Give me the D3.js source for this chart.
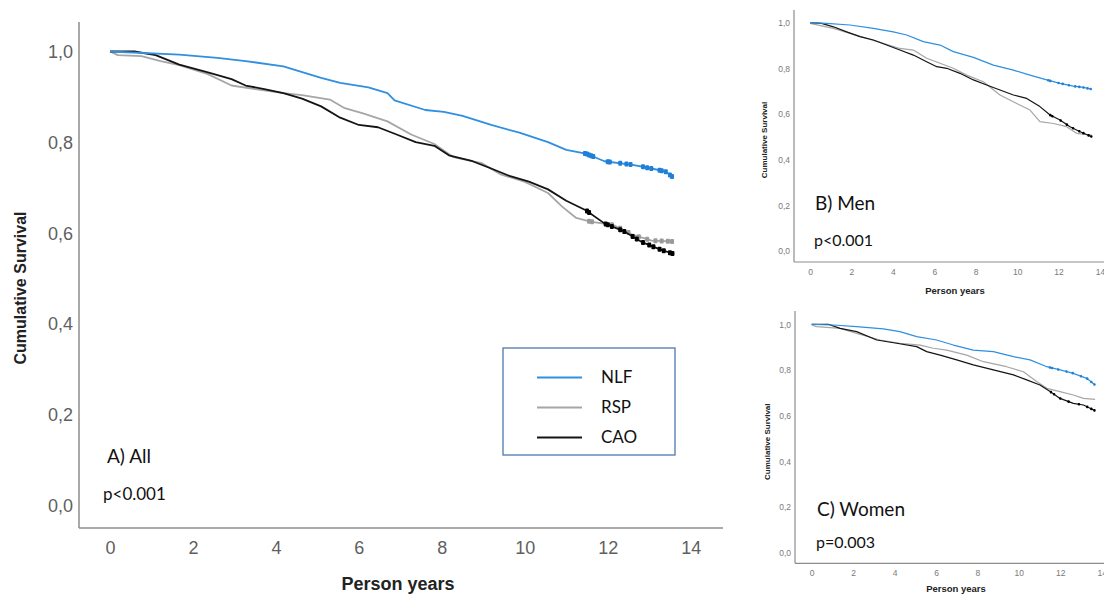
<!DOCTYPE html>
<html>
<head>
<meta charset="utf-8">
<script src="https://cdn.jsdelivr.net/npm/d3@7"></script>
<style>
  body { margin: 0; background: #fff; }
  svg { display: block; }
</style>
</head>
<body>
<svg id="chart" width="1104" height="594"></svg>
<script>
// tick labels
const xTicks = [0, 2, 4, 6, 8, 10, 12, 14];
const yTicks = [0, 0.2, 0.4, 0.6, 0.8, 1.0];
const groups = ["NLF", "RSP", "CAO"];

// A) All  -  [years, cumulative survival]
const allNLF = [[0,1],[1.67,0.993],[2.59,0.986],[3.27,0.979],[4.18,0.967],[5.09,0.942],[5.55,0.931],[6.23,0.921],[6.69,0.908],[6.86,0.892],[7.6,0.871],[8.05,0.867],[8.5,0.858],[9.19,0.838],[9.87,0.821],[10.56,0.80],[11.0,0.783],[11.47,0.775],[11.92,0.758],[12.6,0.75],[13.06,0.742],[13.4,0.735],[13.58,0.722]];
const allRSP = [[0,1],[0.19,0.992],[0.76,0.99],[1.22,0.979],[1.67,0.97],[2.36,0.95],[2.93,0.925],[3.5,0.917],[4.18,0.908],[4.63,0.904],[5.3,0.894],[5.66,0.875],[6.12,0.863],[6.69,0.846],[7.26,0.817],[7.82,0.796],[8.28,0.767],[8.96,0.754],[9.42,0.729],[9.99,0.713],[10.56,0.688],[10.9,0.658],[11.24,0.633],[11.58,0.625],[12.15,0.617],[12.6,0.596],[13.06,0.583],[13.58,0.581]];
const allCAO = [[0,1],[0.59,1],[1.1,0.992],[1.67,0.971],[2.36,0.954],[2.93,0.939],[3.27,0.925],[3.72,0.917],[4.18,0.908],[4.63,0.896],[5.09,0.879],[5.55,0.854],[6.0,0.838],[6.46,0.833],[6.91,0.817],[7.37,0.80],[7.82,0.792],[8.17,0.771],[8.74,0.758],[9.19,0.742],[9.65,0.725],[10.1,0.713],[10.56,0.696],[11.0,0.671],[11.47,0.65],[11.92,0.621],[12.38,0.604],[12.84,0.579],[13.29,0.5625],[13.58,0.554]];

// B) Men
const menNLF = [[0,1],[0.8,0.997],[1.93,0.99],[3.06,0.975],[4.02,0.96],[4.67,0.946],[5.47,0.917],[6.28,0.902],[6.92,0.873],[7.89,0.848],[8.85,0.814],[9.82,0.792],[10.62,0.77],[11.43,0.749],[12.07,0.734],[12.71,0.722],[13.2,0.716],[13.6,0.708]];
const menRSP = [[0,0.997],[1.13,0.975],[1.93,0.953],[2.74,0.931],[3.54,0.909],[4.34,0.887],[4.99,0.88],[5.63,0.844],[6.28,0.822],[6.92,0.8],[7.56,0.77],[8.37,0.741],[9.17,0.683],[9.98,0.646],[10.62,0.617],[11.1,0.566],[11.75,0.558],[12.39,0.544],[12.87,0.515],[13.6,0.507]];
const menCAO = [[0,1],[0.56,0.997],[1.13,0.982],[1.77,0.96],[2.41,0.939],[3.06,0.924],[3.7,0.902],[4.34,0.88],[4.99,0.858],[5.63,0.829],[6.12,0.807],[6.6,0.8],[7.24,0.778],[7.89,0.749],[8.53,0.727],[9.17,0.705],[9.82,0.683],[10.46,0.668],[11.1,0.632],[11.59,0.595],[12.07,0.573],[12.55,0.544],[13.04,0.522],[13.6,0.5]];

// C) Women
const womenNLF = [[0,1],[1.05,0.997],[2.17,0.99],[3.46,0.98],[4.26,0.968],[5.07,0.946],[6.03,0.931],[6.84,0.909],[7.8,0.887],[8.77,0.88],[9.74,0.858],[10.54,0.844],[11.35,0.814],[11.99,0.8],[12.63,0.785],[13.28,0.763],[13.68,0.734]];
const womenRSP = [[0,0.997],[0.24,0.99],[1.37,0.982],[2.17,0.96],[3.3,0.931],[4.26,0.917],[5.23,0.909],[5.87,0.895],[6.52,0.887],[7.48,0.865],[8.29,0.836],[9.41,0.814],[10.22,0.792],[10.86,0.749],[11.35,0.719],[11.99,0.705],[12.63,0.69],[13.12,0.675],[13.68,0.671]];
const womenCAO = [[0,1],[0.8,1],[1.37,0.982],[2.17,0.968],[3.14,0.931],[4.1,0.917],[5.07,0.902],[5.55,0.88],[6.2,0.865],[7.0,0.844],[7.8,0.822],[8.77,0.8],[9.74,0.778],[10.38,0.756],[11.02,0.734],[11.51,0.705],[11.99,0.675],[12.63,0.653],[13.12,0.646],[13.68,0.621]];

// censored observations (blobs near the end of follow-up)
const allNLFcens = [11.45,11.5,11.55,11.6,11.65,12.0,12.05,12.3,12.45,12.55,12.85,12.95,13.05,13.25,13.3,13.4,13.5,13.55];
const allRSPcens = [11.55,11.62,12.1,12.3,12.5,12.75,12.95,13.15,13.3,13.45,13.55];
const allCAOcens = [11.5,11.55,11.95,12.0,12.1,12.3,12.4,12.6,12.7,12.85,13.0,13.1,13.25,13.35,13.5,13.56];
const menNLFcens = [11.5,11.6,12.0,12.2,12.5,12.8,13.0,13.2,13.4,13.55];
const menCAOcens = [11.6,11.7,12.1,12.4,12.7,13.0,13.2,13.45,13.58];
const womenNLFcens = [11.5,11.6,11.9,12.3,12.6,13.0,13.3,13.5,13.65];
const womenCAOcens = [11.55,11.7,12.0,12.4,12.9,13.3,13.5,13.65];

const colors = { NLF: "#2f8fe0", RSP: "#a6a6a6", CAO: "#141414" };
const censColors = { NLF: "#1f80d8", RSP: "#9a9a9a", CAO: "#000" };

const svg = d3.select("#chart");

function valueAt(points, t) {
  let v = points[0][1];
  for (let i = 1; i < points.length; i++) {
    const [t0, s0] = points[i - 1];
    const [t1, s1] = points[i];
    if (t >= t0 && t <= t1) return s0 + (s1 - s0) * (t - t0) / (t1 - t0);
    v = s1;
  }
  return v;
}

function drawPanel(p, series) {
  const x = d3.scaleLinear().domain([0, 14]).range([p.x0, p.x1]);
  const y = d3.scaleLinear().domain([0, 1]).range([p.y0, p.y1]);
  const g = svg.append("g");

  // axis lines
  g.append("line")
    .attr("x1", p.axisX).attr("x2", p.axisX)
    .attr("y1", p.axisTop).attr("y2", p.axisY)
    .attr("stroke", "#8c8c8c").attr("stroke-width", p.axisW);
  g.append("line")
    .attr("x1", p.axisX).attr("x2", p.axisRight)
    .attr("y1", p.axisY).attr("y2", p.axisY)
    .attr("stroke", "#8c8c8c").attr("stroke-width", p.axisW);

  // tick labels
  const yAxis = d3.axisLeft(y).tickValues(yTicks).tickSize(0).tickPadding(0)
    .tickFormat(d => d3.format(".1f")(d).replace(".", ","));
  g.append("g")
    .attr("transform", `translate(${p.yLabelRight},0)`)
    .call(yAxis)
    .call(a => a.select(".domain").remove())
    .selectAll("text")
    .attr("font-family", "Liberation Sans, Arial, sans-serif")
    .attr("font-size", p.tickSize)
    .attr("fill", p.tickColor)
    .attr("dy", "0.35em");

  const xAxis = d3.axisBottom(x).tickValues(xTicks).tickSize(0).tickPadding(0);
  g.append("g")
    .attr("transform", `translate(0,${p.xLabelY})`)
    .call(xAxis)
    .call(a => a.select(".domain").remove())
    .selectAll("text")
    .attr("font-family", "Liberation Sans, Arial, sans-serif")
    .attr("font-size", p.tickSize)
    .attr("fill", p.tickColor)
    .attr("dy", "0.35em");

  // axis titles
  g.append("text")
    .attr("x", p.xTitle[0]).attr("y", p.xTitle[1])
    .attr("text-anchor", "middle").attr("dy", "0.35em")
    .attr("font-family", "Liberation Sans, Arial, sans-serif")
    .attr("font-weight", "bold").attr("font-size", p.xTitleSize)
    .attr("fill", "#222")
    .text("Person years");
  g.append("text")
    .attr("transform", `translate(${p.yTitle[0]},${p.yTitle[1]}) rotate(-90)`)
    .attr("text-anchor", "middle").attr("dy", "0.35em")
    .attr("font-family", "Liberation Sans, Arial, sans-serif")
    .attr("font-weight", "bold").attr("font-size", p.yTitleSize)
    .attr("fill", "#222")
    .text("Cumulative Survival");

  // curves
  const line = d3.line().x(d => x(d[0])).y(d => y(d[1]));
  ["RSP", "CAO", "NLF"].forEach(k => {
    const s = series[k];
    g.append("path")
      .datum(s.points)
      .attr("fill", "none")
      .attr("stroke", colors[k])
      .attr("stroke-width", p.lineW)
      .attr("stroke-linejoin", "round")
      .attr("d", line);
    g.selectAll(null)
      .data(s.cens || [])
      .enter()
      .append("rect")
      .attr("x", d => x(d) - p.censW / 2)
      .attr("y", d => y(valueAt(s.points, d)) - p.censH / 2)
      .attr("width", p.censW)
      .attr("height", p.censH)
      .attr("rx", 1)
      .attr("fill", censColors[k]);
  });

  // panel label and p value
  g.append("text")
    .attr("x", p.label[0]).attr("y", p.label[1])
    .attr("dy", "0.35em")
    .attr("font-family", "Lato, 'Open Sans', sans-serif")
    .attr("font-size", p.labelSize).attr("fill", "#111")
    .text(p.labelText);
  g.append("text")
    .attr("x", p.pval[0]).attr("y", p.pval[1])
    .attr("dy", "0.35em")
    .attr("font-family", "Lato, 'Open Sans', sans-serif")
    .attr("font-size", p.pSize).attr("fill", "#111")
    .text(p.pText);
}

// A) All
drawPanel({
  x0: 110, x1: 690.7, y0: 505, y1: 51.5,
  axisX: 79, axisTop: 22, axisY: 528, axisRight: 723, axisW: 1.5,
  yLabelRight: 73, xLabelY: 548, tickSize: 18, tickColor: "#5f5f5f",
  xTitle: [398, 584], xTitleSize: 18, yTitle: [20, 288], yTitleSize: 16,
  lineW: 1.8, censH: 5, censW: 4,
  label: [107, 456], labelSize: 19, labelText: "A) All",
  pval: [103, 494], pSize: 17, pText: "p<0.001"
}, {
  NLF: { points: allNLF, cens: allNLFcens },
  RSP: { points: allRSP, cens: allRSPcens },
  CAO: { points: allCAO, cens: allCAOcens }
});

// B) Men
drawPanel({
  x0: 810, x1: 1100, y0: 250.7, y1: 22.7,
  axisX: 794, axisTop: 10, axisY: 262, axisRight: 1104, axisW: 1.2,
  yLabelRight: 790, xLabelY: 272, tickSize: 8.5, tickColor: "#7a7a7a",
  xTitle: [955, 291], xTitleSize: 9.5, yTitle: [764, 140], yTitleSize: 8,
  lineW: 1.2, censH: 2.6, censW: 2.4,
  label: [815, 203], labelSize: 19, labelText: "B) Men",
  pval: [814, 240], pSize: 16, pText: "p<0.001"
}, {
  NLF: { points: menNLF, cens: menNLFcens },
  RSP: { points: menRSP },
  CAO: { points: menCAO, cens: menCAOcens }
});

// C) Women
drawPanel({
  x0: 811.7, x1: 1101.7, y0: 552.3, y1: 324.3,
  axisX: 795, axisTop: 311, axisY: 563.3, axisRight: 1104, axisW: 1.2,
  yLabelRight: 791, xLabelY: 573.3, tickSize: 8.5, tickColor: "#7a7a7a",
  xTitle: [956, 588.5], xTitleSize: 9.5, yTitle: [766.7, 441.7], yTitleSize: 8,
  lineW: 1.2, censH: 2.6, censW: 2.4,
  label: [817, 509], labelSize: 19, labelText: "C) Women",
  pval: [816, 542], pSize: 16, pText: "p=0.003"
}, {
  NLF: { points: womenNLF, cens: womenNLFcens },
  RSP: { points: womenRSP },
  CAO: { points: womenCAO, cens: womenCAOcens }
});

// legend for the main panel
const legend = svg.append("g").attr("transform", "translate(503,348)");
legend.append("rect")
  .attr("width", 172).attr("height", 107)
  .attr("fill", "#fff").attr("stroke", "#4f78b0").attr("stroke-width", 1.3);
const ly = d3.scalePoint().domain(groups).range([29.5, 89.5]);
groups.forEach(k => {
  legend.append("line")
    .attr("x1", 34).attr("x2", 79)
    .attr("y1", ly(k)).attr("y2", ly(k))
    .attr("stroke", colors[k]).attr("stroke-width", 2);
  legend.append("text")
    .attr("x", 98).attr("y", ly(k)).attr("dy", "0.35em")
    .attr("font-family", "Lato, 'Open Sans', sans-serif")
    .attr("font-size", 17).attr("fill", "#111")
    .text(k);
});
</script>
</body>
</html>
